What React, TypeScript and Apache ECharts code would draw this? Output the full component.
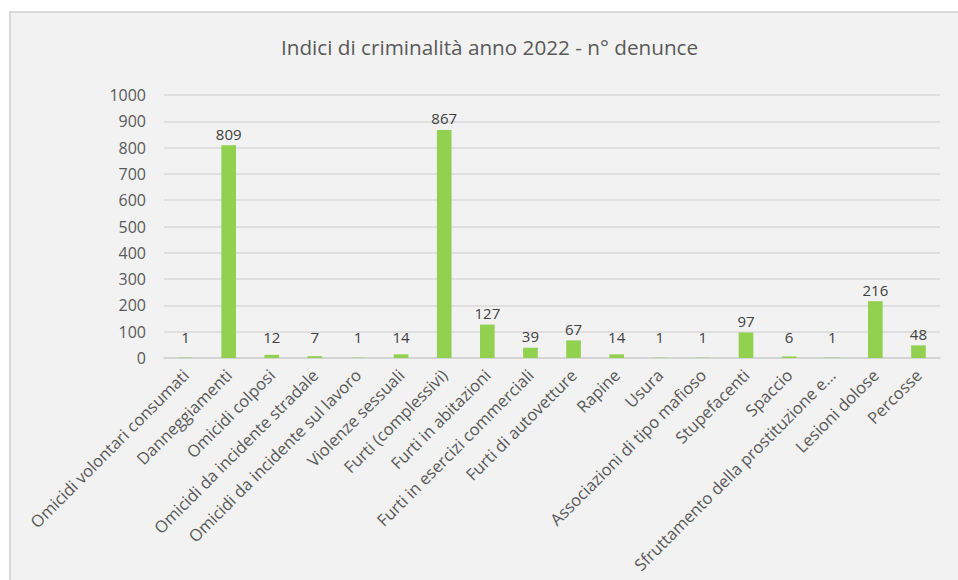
import React, { useEffect, useRef } from "react";
import * as echarts from "echarts";

const TITLE = "Indici di criminalità anno 2022 - n° denunce";

const categories: string[] = [
  "Omicidi volontari consumati",
  "Danneggiamenti",
  "Omicidi colposi",
  "Omicidi da incidente stradale",
  "Omicidi da incidente sul lavoro",
  "Violenze sessuali",
  "Furti (complessivi)",
  "Furti in abitazioni",
  "Furti in esercizi commerciali",
  "Furti di autovetture",
  "Rapine",
  "Usura",
  "Associazioni di tipo mafioso",
  "Stupefacenti",
  "Spaccio",
  "Sfruttamento della prostituzione e…",
  "Lesioni dolose",
  "Percosse",
];

const denunce: number[] = [1, 809, 12, 7, 1, 14, 867, 127, 39, 67, 14, 1, 1, 97, 6, 1, 216, 48];

const yMin = 0;
const yMax = 1000;
const yInterval = 100;

const FONT = "'Open Sans', 'Noto Sans', sans-serif";

export default function App() {
  const ref = useRef<HTMLDivElement>(null);

  useEffect(() => {
    if (!ref.current) return;
    const chart = echarts.init(ref.current, undefined, { renderer: "svg" });
    chart.setOption({
      animation: false,
      backgroundColor: "#ffffff",
      textStyle: { fontFamily: FONT },
      graphic: [
        {
          type: "rect",
          z: -10,
          shape: { x: 10, y: 12, width: 1000, height: 1000 },
          style: { fill: "#f2f2f2", stroke: "#d9d9d9", lineWidth: 2 },
        },
      ],
      title: {
        text: TITLE,
        left: 276,
        top: 31,
        textStyle: {
          fontFamily: FONT,
          fontSize: 20.7,
          fontWeight: "normal",
          color: "#595959",
        },
      },
      grid: { left: 164, right: 18, top: 95, bottom: 222 },
      xAxis: {
        type: "category",
        data: categories,
        axisLine: { show: true, lineStyle: { color: "#d0d0d0", width: 1.5 } },
        axisTick: { show: false },
        axisLabel: {
          interval: 0,
          rotate: 45,
          margin: 14,
          fontFamily: FONT,
          fontSize: 16.5,
          color: "#595959",
        },
      },
      yAxis: {
        type: "value",
        min: yMin,
        max: yMax,
        interval: yInterval,
        axisLine: { show: false },
        axisTick: { show: false },
        splitLine: { lineStyle: { color: "#d9d9d9", width: 1.5 } },
        axisLabel: {
          margin: 18,
          fontFamily: FONT,
          fontSize: 16,
          color: "#595959",
          formatter: (v: number) => String(v),
        },
      },
      series: [
        {
          type: "bar",
          data: denunce,
          barWidth: "34%",
          itemStyle: { color: "#92d050" },
          label: {
            show: true,
            position: "top",
            distance: 4,
            fontFamily: FONT,
            fontSize: 15,
            color: "#404040",
          },
          labelLayout: (p: any) => {
            const base = p.rect.y + p.rect.height;
            const lr = p.labelRect;
            const cy = Math.min(lr.y + lr.height / 2, base - 21);
            return {
              x: p.rect.x + p.rect.width / 2,
              y: cy,
              align: "center",
              verticalAlign: "middle",
            };
          },
        },
      ],
    });
    return () => chart.dispose();
  }, []);

  return (
    <div
      ref={ref}
      style={{ position: "absolute", left: 0, top: 0, width: 958, height: 580 }}
    />
  );
}
